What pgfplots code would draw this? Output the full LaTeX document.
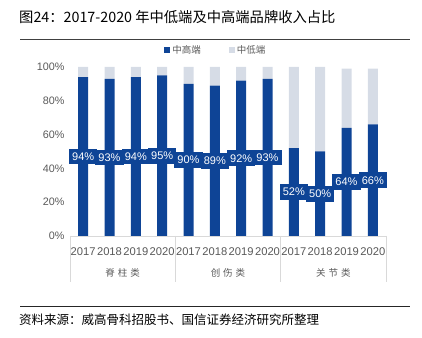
\documentclass[border=0pt]{standalone}
\usepackage{pgfplots}
\pgfplotsset{compat=1.18}
\usepackage{pgfplotstable}
\usepackage{fontspec}
\setmainfont{Liberation Sans}
\newfontfamily\cjk{Noto Sans CJK SC}
\definecolor{dblue}{HTML}{0E4496}
\definecolor{lblue}{HTML}{D6DCE6}
\definecolor{tgray}{HTML}{595959}
\definecolor{lgray}{HTML}{D9D9D9}
\pgfplotstableread{
x hi lo mid
0 94 6 47
1 93 7 46.5
2 94 6 47
3 95 5 47.5
4 90 10 45
5 89 11 44.5
6 92 8 46
7 93 7 46.5
8 52 48 26
9 50 50 25
10 64 35 32
11 66 33 33
}\data
\begin{document}
\begin{tikzpicture}
\useasboundingbox (0pt,0pt) rectangle (422pt,337pt);
\node[anchor=west,font=\cjk\fontsize{14.3}{16}\selectfont,text=black,inner sep=0] at (19pt,320pt) {图24：2017-2020 年中低端及中高端品牌收入占比};
\draw[color=black!75,line width=0.8pt] (20pt,297.5pt) -- (410pt,297.5pt);
\draw[color=black!85,line width=0.8pt] (20pt,31pt) -- (410pt,31pt);
\node[anchor=west,font=\cjk\fontsize{12.5}{14}\selectfont,text=black,inner sep=0] at (19pt,17pt) {资料来源：威高骨科招股书、国信证券经济研究所整理};
\begin{axis}[
  at={(70pt,101pt)}, anchor=south west,
  scale only axis, width=316pt, height=169pt,
  ybar stacked, bar width=10pt,
  xmin=-0.5, xmax=11.5, ymin=0, ymax=100,
  axis x line*=bottom, axis y line*=left,
  x axis line style={lgray, line width=0.8pt, -},
  y axis line style={draw=none},
  xtick={0,...,11},
  xticklabels={2017,2018,2019,2020,2017,2018,2019,2020,2017,2018,2019,2020},
  xticklabel style={font=\fontsize{11.2}{12}\selectfont, text=tgray, yshift=-8pt},
  major tick length=0pt,
  ytick={0,20,40,60,80,100},
  yticklabel={\pgfmathprintnumber{\tick}\%},
  /pgf/number format/assume math mode=true,
  yticklabel style={font=\fontsize{10.8}{12}\selectfont, text=tgray, xshift=-2pt},
  clip=false,
  legend style={at={(0.462,1.10)}, anchor=center, draw=none, fill=none,
    legend columns=2, font=\cjk\fontsize{9.5}{11}\selectfont, text=tgray,
    /tikz/every even column/.append style={column sep=26pt}},
  legend image code/.code={\fill[#1] (0pt,-3pt) rectangle (6pt,3pt);},
]
\addplot[fill=dblue, draw=none] table[x=x,y=hi] {\data};
\addlegendentry{中高端}
\addplot[fill=lblue, draw=none] table[x=x,y=lo] {\data};
\addlegendentry{中低端}
\draw[lgray, line width=0.8pt] (axis cs:-0.5,0) -- ++(0pt,-46pt);
\draw[lgray, line width=0.8pt] (axis cs:3.5,0) -- ++(0pt,-46pt);
\draw[lgray, line width=0.8pt] (axis cs:7.5,0) -- ++(0pt,-46pt);
\draw[lgray, line width=0.8pt] (axis cs:11.5,0) -- ++(0pt,-46pt);
\node[font=\cjk\fontsize{9.5}{11}\selectfont, text=tgray] at ([yshift=-37pt]axis cs:1.5,0) {脊\hspace{3pt}柱\hspace{3pt}类};
\node[font=\cjk\fontsize{9.5}{11}\selectfont, text=tgray] at ([yshift=-37pt]axis cs:5.5,0) {创\hspace{3pt}伤\hspace{3pt}类};
\node[font=\cjk\fontsize{9.5}{11}\selectfont, text=tgray] at ([yshift=-37pt]axis cs:9.5,0) {关\hspace{3pt}节\hspace{3pt}类};
\end{axis}
\begin{axis}[
  at={(70pt,101pt)}, anchor=south west,
  scale only axis, width=316pt, height=169pt,
  xmin=-0.5, xmax=11.5, ymin=0, ymax=100,
  axis line style={draw=none}, ticks=none, clip=false,
  /pgf/number format/assume math mode=true,
]
\addplot[draw=none, mark=none, nodes near coords={\pgfmathprintnumber{\pgfplotspointmeta}\%},
  point meta=explicit,
  every node near coord/.style={anchor=center, fill=dblue, text=white, inner xsep=3pt, inner ysep=4pt,
    font=\fontsize{11}{12}\selectfont}]
  table[x=x,y=mid,meta=hi] {\data};
\end{axis}
\end{tikzpicture}
\end{document}
